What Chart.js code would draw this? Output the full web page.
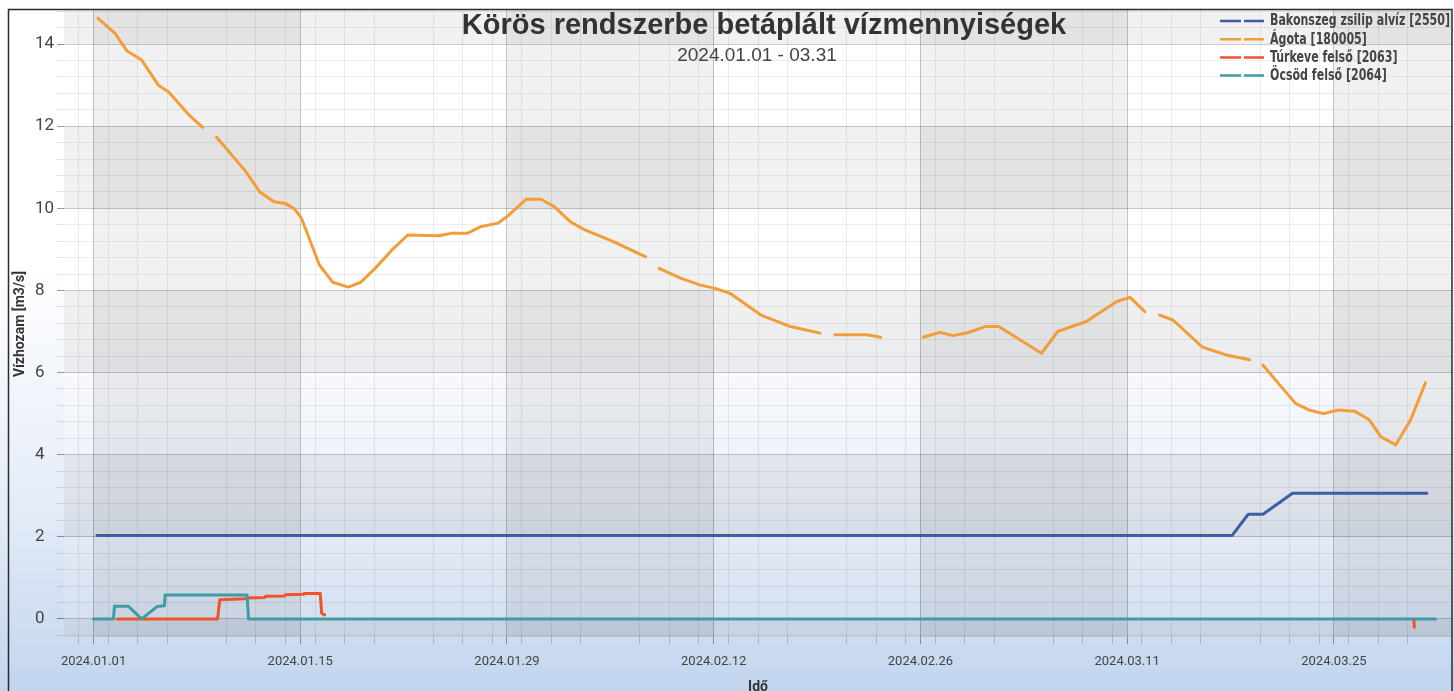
<!DOCTYPE html>
<html>
<head>
<meta charset="utf-8">
<script src="https://cdn.jsdelivr.net/npm/chart.js@4.4.1/dist/chart.umd.min.js"></script>
<style>
html,body{margin:0;padding:0;background:#ffffff;}
#wrap{width:1454px;height:691px;position:relative;}
</style>
</head>
<body>
<div id="wrap"><canvas id="c"></canvas></div>
<script>
// ---------- texts ----------
const chartTitle = 'Körös rendszerbe betáplált vízmennyiségek';
const chartSubtitle = '2024.01.01 - 03.31';
const xAxisTitle = 'Idő';
const yAxisTitle = 'Vízhozam [m3/s]';

// ---------- series ----------
const seriesNames = ['Bakonszeg zsilip alvíz [2550]', 'Ágota [180005]', 'Túrkeve felső [2063]', 'Öcsöd felső [2064]'];
const seriesColors = ['#3d5ea7', '#f29e38', '#ef5329', '#3f9ba6'];

// x = days since 2024.01.01, null value = gap
const bakonszegDays   = [0.23, 77.1, 78.2, 79.2, 81.2, 90.3];
const bakonszegValues = [2.03, 2.03, 2.55, 2.55, 3.06, 3.06];

const agotaDays = [0.29, 1.46, 2.25, 3.26, 4.39, 5.07, 6.53, 7.39, 7.85,
  8.33, 10.24, 11.26, 12.23, 12.99, 13.62, 14.08, 15.3, 16.2, 17.25, 18.1, 19.1, 20.2, 21.28,
  23.4, 24.2, 25.3, 26.2, 27.4, 28.0, 29.3, 30.3, 31.2, 32.3, 33.2, 35.2, 37.4, 37.85,
  38.3, 39.75, 41.1, 42.1, 43.1, 45.2, 47.2, 49.2, 49.7,
  50.2, 52.4, 53.3, 54.7,
  56.2, 57.3, 58.2, 59.2, 60.4, 61.3, 64.2, 65.3, 67.2, 69.3, 70.2, 71.2, 71.7,
  72.2, 73.1, 75.1, 76.7, 78.3, 78.75,
  79.2, 81.4, 82.3, 83.3, 84.3, 85.4, 86.4, 87.2, 88.2, 89.2, 90.2];
const agotaValues = [14.63, 14.26, 13.84, 13.61, 13.00, 12.84, 12.25, 11.97, null,
  11.73, 10.93, 10.40, 10.16, 10.12, 9.98, 9.76, 8.62, 8.20, 8.08, 8.20, 8.55, 8.98, 9.35,
  9.33, 9.39, 9.39, 9.55, 9.64, 9.80, 10.22, 10.22, 10.04, 9.67, 9.49, 9.19, 8.82, null,
  8.54, 8.30, 8.13, 8.05, 7.93, 7.40, 7.12, 6.96, null,
  6.92, 6.92, 6.86, null,
  6.86, 6.98, 6.90, 6.97, 7.12, 7.12, 6.47, 7.00, 7.24, 7.73, 7.83, 7.48, null,
  7.40, 7.28, 6.62, 6.43, 6.31, null,
  6.18, 5.25, 5.09, 5.00, 5.09, 5.06, 4.85, 4.43, 4.24, 4.85, 5.75];

const turkeveDays   = [1.6, 8.4, 8.55, 10.3, 10.35, 11.6, 11.65, 12.95, 13.0, 14.2, 14.25, 15.35, 15.45, 15.65, 50, 89.42, 89.45];
const turkeveValues = [0.0, 0.0, 0.47, 0.49, 0.51, 0.52, 0.55, 0.56, 0.59, 0.60, 0.62, 0.62, 0.14, 0.10, null, 0.0, -0.2];

const ocsodDays   = [0, 1.35, 1.42, 2.35, 3.26, 4.3, 4.8, 4.85, 10.4, 10.5, 90.9];
const ocsodValues = [0, 0, 0.31, 0.31, 0, 0.30, 0.32, 0.58, 0.58, 0, 0];

// ---------- axes ----------
const xMin = -2, xMax = 92;
const yMin = -0.44, yMax = 14.83;
const majorDays = [0, 14, 28, 42, 56, 70, 84];
const xTickLabels = ['2024.01.01', '2024.01.15', '2024.01.29', '2024.02.12', '2024.02.26', '2024.03.11', '2024.03.25'];
const minorDayOffsets = [1, 3, 5, 9, 11, 13];
const yMajorStep = 2, yMinorStep = 0.4;

// ---------- build ----------
function pts(xs, ys) { return xs.map((x, i) => ({ x: x, y: ys[i] })); }
const seriesData = [pts(bakonszegDays, bakonszegValues), pts(agotaDays, agotaValues), pts(turkeveDays, turkeveValues), pts(ocsodDays, ocsodValues)];
const drawOrder = [3, 2, 1, 0];

const xTickValues = [];
[-14].concat(majorDays).forEach(m => {
  if (m >= xMin && m <= xMax) xTickValues.push(m);
  minorDayOffsets.forEach(o => { const v = m + o; if (v >= xMin && v <= xMax) xTickValues.push(v); });
});
xTickValues.sort((a, b) => a - b);
const yTickValues = [];
for (let i = Math.ceil(yMin / yMinorStep); i * yMinorStep <= yMax; i++) yTickValues.push(Math.round(i * yMinorStep * 10) / 10);

const isMajorX = v => majorDays.indexOf(v) >= 0;
const isMajorY = v => Math.abs(v / yMajorStep - Math.round(v / yMajorStep)) < 1e-6;

const bgPlugin = {
  id: 'bg',
  beforeDraw(chart) {
    const { ctx, chartArea: a, width, height } = chart;
    const xs = chart.scales.x, ys = chart.scales.y;
    ctx.save();
    const g = ctx.createLinearGradient(0, 0, 0, height);
    g.addColorStop(0, '#ffffff'); g.addColorStop(0.38, '#ffffff');
    g.addColorStop(0.72, '#e6edf8'); g.addColorStop(1, '#c2d5ee');
    ctx.fillStyle = g; ctx.fillRect(0, 0, width, height);
    const g2 = ctx.createLinearGradient(0, a.top, 0, a.bottom);
    g2.addColorStop(0, '#ffffff'); g2.addColorStop(0.45, '#ffffff');
    g2.addColorStop(0.75, '#edf1f9'); g2.addColorStop(1, '#d3deef');
    ctx.fillStyle = g2; ctx.fillRect(a.left, a.top, a.width, a.height);
    ctx.beginPath(); ctx.rect(a.left, a.top, a.width, a.height); ctx.clip();
    ctx.fillStyle = 'rgba(40,40,50,0.065)';
    for (let k = 0; k < majorDays.length; k += 2) {
      const x0 = xs.getPixelForValue(majorDays[k]);
      const x1 = k + 1 < majorDays.length ? xs.getPixelForValue(majorDays[k + 1]) : a.right;
      ctx.fillRect(x0, a.top, x1 - x0, a.height);
    }
    for (let v = -2; v <= 14; v += 4) {
      const y0 = ys.getPixelForValue(v + 2), y1 = ys.getPixelForValue(v);
      ctx.fillRect(a.left, y0, a.width, y1 - y0);
    }
    ctx.restore();
  }
};

const overlayPlugin = {
  id: 'overlay',
  afterDraw(chart) {
    const { ctx } = chart;
    ctx.save();
    // title
    ctx.textAlign = 'center'; ctx.textBaseline = 'middle';
    ctx.fillStyle = '#333333';
    ctx.font = 'bold 29px "Liberation Sans", Arial, sans-serif';
    ctx.fillText(chartTitle, 764, 26);
    ctx.fillStyle = '#444444';
    ctx.font = '19px "Liberation Sans", Arial, sans-serif';
    ctx.fillText(chartSubtitle, 757, 56);
    // legend
    const lf = 'bold 15px "Liberation Sans Narrow", "DejaVu Sans Condensed", Roboto, sans-serif';
    ctx.font = lf;
    const s = Math.min(1, 180 / ctx.measureText(seriesNames[0]).width);
    ctx.textAlign = 'left';
    chart.data.datasets.forEach((ds, i) => {
      const y = 21 + i * 18.2;
      ctx.strokeStyle = ds.borderColor; ctx.lineWidth = 2.5; ctx.lineCap = 'butt';
      ctx.beginPath(); ctx.moveTo(1220, y); ctx.lineTo(1241, y); ctx.moveTo(1244, y); ctx.lineTo(1264, y); ctx.stroke();
      ctx.fillStyle = '#444444';
      ctx.font = lf;
      const w = ctx.measureText(ds.label).width * s;
      ctx.fillText(ds.label, 1270, y + 0.5, w);
    });
    // y title
    ctx.save();
    ctx.translate(20, 324); ctx.rotate(-Math.PI / 2);
    ctx.textAlign = 'center'; ctx.textBaseline = 'middle';
    ctx.fillStyle = '#333333';
    ctx.font = 'bold 14px Roboto, sans-serif';
    ctx.fillText(yAxisTitle, 0, 0, 112);
    ctx.restore();
    // frame
    ctx.strokeStyle = '#2b2b2b'; ctx.lineWidth = 1.5;
    ctx.strokeRect(8.5, 9.5, 1443.5, 700);
    ctx.restore();
  }
};

new Chart(document.getElementById('c'), {
  type: 'line',
  data: {
    datasets: seriesNames.map((n, i) => ({
      label: n,
      data: seriesData[i],
      borderColor: seriesColors[i],
      backgroundColor: seriesColors[i],
      borderWidth: 3,
      pointRadius: 0,
      pointHoverRadius: 0,
      tension: 0,
      spanGaps: false,
      borderJoinStyle: 'round',
      borderCapStyle: 'round',
      order: drawOrder[i],
      fill: false
    }))
  },
  options: {
    responsive: true,
    maintainAspectRatio: false,
    animation: false,
    events: [],
    layout: { padding: { left: 35, top: 10, right: 2, bottom: -3 } },
    plugins: { legend: { display: false }, title: { display: false }, tooltip: { enabled: false } },
    scales: {
      x: {
        type: 'linear', min: xMin, max: xMax,
        afterBuildTicks: sc => { sc.ticks = xTickValues.map(v => ({ value: v })); },
        afterFit: sc => { sc.height = 57; sc.paddingLeft = 0; sc.paddingRight = 0; },
        ticks: {
          autoSkip: false, maxRotation: 0, minRotation: 0, padding: 10,
          color: '#444444', font: { family: 'Roboto', size: 13 },
          callback: v => { const k = majorDays.indexOf(v); return k >= 0 ? xTickLabels[k] : ''; }
        },
        grid: {
          drawTicks: true, tickLength: 7,
          color: c => isMajorX(c.tick.value) ? 'rgba(0,0,0,0.22)' : 'rgba(0,0,0,0.075)',
          tickColor: c => isMajorX(c.tick.value) ? 'rgba(0,0,0,0.35)' : 'rgba(0,0,0,0.18)',
          lineWidth: 1
        },
        border: { display: false },
        title: { display: true, text: xAxisTitle, color: '#333333', font: { family: 'Roboto', size: 14, weight: 'bold', lineHeight: 1 }, padding: 0 }
      },
      y: {
        type: 'linear', min: yMin, max: yMax,
        afterBuildTicks: sc => { sc.ticks = yTickValues.map(v => ({ value: v })); },
        afterFit: sc => { sc.width = 29; sc.paddingTop = 0; sc.paddingBottom = 0; },
        ticks: {
          autoSkip: false, crossAlign: 'far', padding: 6,
          color: '#444444', font: { family: 'Roboto', size: 17 },
          callback: v => isMajorY(v) ? String(Math.round(v)) : ''
        },
        grid: {
          drawTicks: true, tickLength: 7,
          color: c => isMajorY(c.tick.value) ? 'rgba(0,0,0,0.2)' : 'rgba(0,0,0,0.07)',
          tickColor: c => isMajorY(c.tick.value) ? 'rgba(0,0,0,0.4)' : 'rgba(0,0,0,0.12)',
          lineWidth: 1
        },
        border: { display: false }
      }
    }
  },
  plugins: [bgPlugin, overlayPlugin]
});
</script>
</body>
</html>
